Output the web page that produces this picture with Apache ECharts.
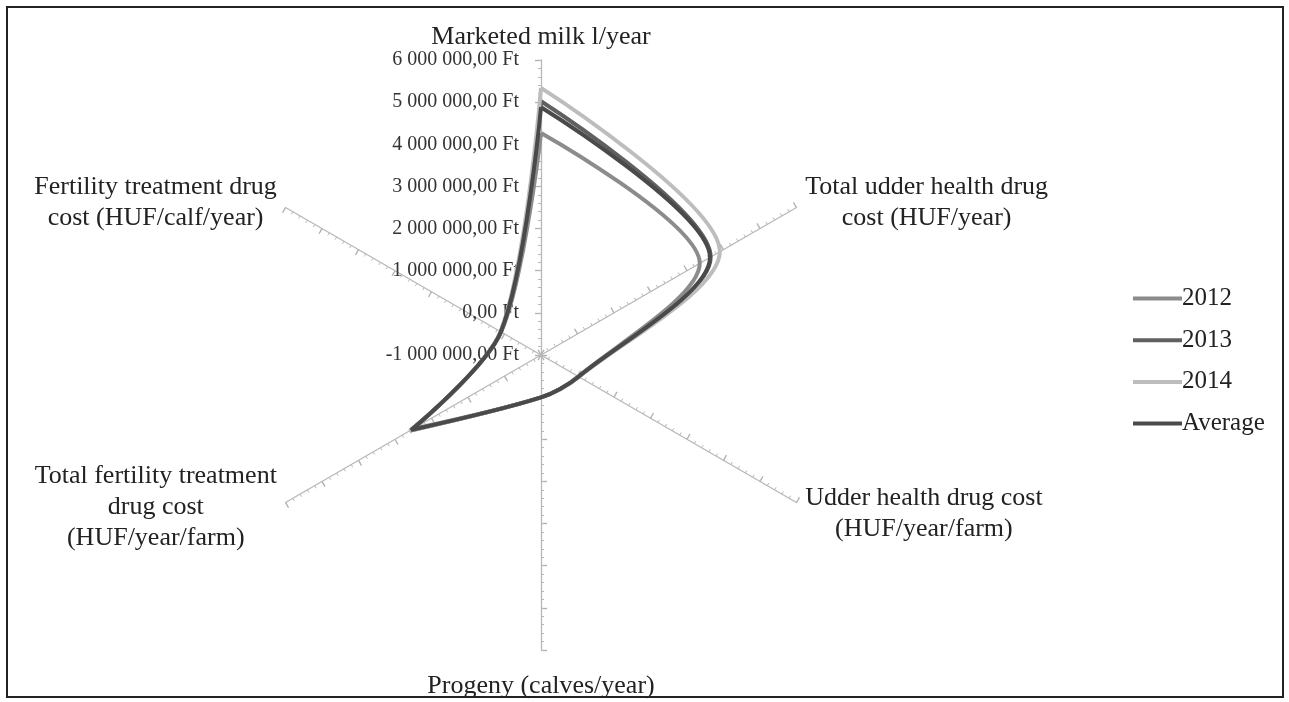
<!DOCTYPE html>
<html>
<head>
<meta charset="utf-8">
<script src="https://cdn.jsdelivr.net/npm/echarts@6/dist/echarts.min.js"></script>
<style>
  html, body { margin: 0; padding: 0; background: #fff; }
  #chart { position: absolute; left: 0; top: 0; width: 1289px; height: 702px; }
  #frame { position: absolute; left: 6px; top: 6px; width: 1274px; height: 688px; border: 2px solid #222; pointer-events: none; }
</style>
</head>
<body>
<div id="chart"></div>
<div id="frame"></div>
<script>
// Axes in clockwise order starting from the top
const categories = [
  'Marketed milk l/year',
  'Total udder health drug\ncost (HUF/year)',
  'Udder health drug cost\n(HUF/year/farm)',
  'Progeny (calves/year)',
  'Total fertility treatment\ndrug cost\n(HUF/year/farm)',
  'Fertility treatment drug\ncost (HUF/calf/year)'
];
const seriesNames = ['2012', '2013', '2014', 'Average'];
const values2012 = [4270000, 3350000, 20000, 5000, 2500000, 90000];
const values2013 = [5020000, 3650000, 30000, 5000, 2580000, 100000];
const values2014 = [5340000, 3900000, 40000, 5000, 2600000, 110000];
const valuesAvg  = [4880000, 3630000, 30000, 5000, 2560000, 100000];
const axisMin = -1000000;
const axisMax = 6000000;
const axisStep = 1000000;

const allValues = [values2012, values2013, values2014, valuesAvg];
const colors = ['#8c8c8c', '#606060', '#bdbdbd', '#4a4a4a'];

function fmt(v) {
  const neg = v < 0;
  const s = Math.abs(Math.round(v)).toString().replace(/\B(?=(\d{3})+(?!\d))/g, ' ');
  return (neg ? '-' : '') + s + ',00 Ft';
}

const n = categories.length;
const step = 360 / n;
// radar indicators go counter-clockwise: reorder
const ccwOrder = [0];
for (let i = n - 1; i >= 1; i--) ccwOrder.push(i);
const indicators = ccwOrder.map(i => ({ name: categories[i], min: axisMin, max: axisMax }));

const center = [541, 355];
const radius = 295;
const font = 'Liberation Serif';

function toPolar(vals) {
  const d = vals.map((v, i) => [v, i * step]);
  d.push([vals[0], 360]);
  return d;
}

const chart = echarts.init(document.getElementById('chart'));
chart.setOption({
  animation: false,
  backgroundColor: '#fff',
  legend: {
    orient: 'vertical',
    left: 1128,
    top: 281,
    icon: 'rect',
    itemWidth: 49,
    itemHeight: 4,
    itemGap: 16.7,
    textStyle: { fontFamily: font, fontSize: 25, color: '#222', lineHeight: 25, padding: [0, 0, 0, -5] },
    data: seriesNames
  },
  radar: [
    {
      center: center,
      radius: radius,
      startAngle: 90,
      splitNumber: 7,
      shape: 'polygon',
      indicator: indicators,
      axisLine: { show: true, lineStyle: { color: '#b8b8b8', width: 1.3 } },
      axisTick: { show: true, length: 6, lineStyle: { color: '#b0b0b0', width: 1.3 } },
      axisLabel: { show: false },
      splitLine: { show: false },
      splitArea: { show: false },
      nameGap: 10,
      axisName: {
        color: '#222',
        fontFamily: font,
        fontSize: 26,
        formatter: function (name) {
          if (name === categories[0]) return '{t|' + name + '}';
          if (name === categories[3]) return '{b|' + name + '}';
          const lines = name.split('\n');
          const style = name === categories[2] ? 'd' : 'c';
          return lines.map(s => '{' + style + '|' + s + '}').join('\n');
        },
        rich: {
          c: { align: 'center', fontFamily: font, fontSize: 26, lineHeight: 31, color: '#222' },
          d: { align: 'center', fontFamily: font, fontSize: 26, lineHeight: 31, color: '#222', padding: [12, 0, 0, 0] },
          t: { fontFamily: font, fontSize: 26, lineHeight: 25, color: '#222' },
          b: { fontFamily: font, fontSize: 26, lineHeight: 29, color: '#222', padding: [24, 0, 0, 0] }
        }
      }
    },
    {
      center: center,
      radius: radius,
      startAngle: 90,
      splitNumber: 35,
      shape: 'polygon',
      indicator: indicators.map(d => ({ name: '', min: d.min, max: d.max })),
      axisLine: { show: false },
      axisTick: { show: true, length: 3, lineStyle: { color: '#b8b8b8', width: 1 } },
      axisLabel: { show: false },
      splitLine: { show: false },
      splitArea: { show: false },
      axisName: { show: false }
    }
  ],
  polar: { center: center, radius: radius },
  angleAxis: {
    type: 'value', min: 0, max: 360, startAngle: 90, clockwise: true,
    axisLine: { show: false }, axisTick: { show: false }, axisLabel: { show: false }, splitLine: { show: false }
  },
  radiusAxis: {
    type: 'value', min: axisMin, max: axisMax, interval: axisStep,
    axisLine: { show: false }, axisTick: { show: false }, splitLine: { show: false },
    axisLabel: { fontFamily: font, fontSize: 20, color: '#333', margin: 22, formatter: fmt }
  },
  series: seriesNames.map((name, k) => ({
    name: name,
    type: 'line',
    coordinateSystem: 'polar',
    data: toPolar(allValues[k]),
    smooth: 0.3,
    symbol: 'none',
    lineStyle: { color: colors[k], width: 4 },
    itemStyle: { color: colors[k] },
    z: 5
  }))
});
</script>
</body>
</html>
